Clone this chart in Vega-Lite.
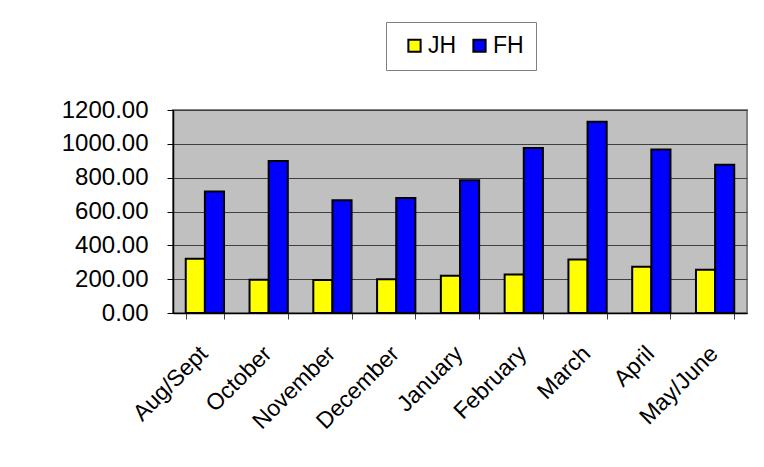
{
  "$schema": "https://vega.github.io/schema/vega-lite/v6.json",
  "autosize": "none",
  "width": 574,
  "height": 203,
  "padding": {"left": 173, "top": 110, "right": 17, "bottom": 154},
  "background": "white",
  "data": {
    "values": [
      {"month": "Aug/Sept", "series": "JH", "value": 320},
      {"month": "Aug/Sept", "series": "FH", "value": 718},
      {"month": "October", "series": "JH", "value": 196},
      {"month": "October", "series": "FH", "value": 898},
      {"month": "November", "series": "JH", "value": 195},
      {"month": "November", "series": "FH", "value": 667},
      {"month": "December", "series": "JH", "value": 200},
      {"month": "December", "series": "FH", "value": 680},
      {"month": "January", "series": "JH", "value": 220},
      {"month": "January", "series": "FH", "value": 785},
      {"month": "February", "series": "JH", "value": 228},
      {"month": "February", "series": "FH", "value": 975},
      {"month": "March", "series": "JH", "value": 316},
      {"month": "March", "series": "FH", "value": 1130},
      {"month": "April", "series": "JH", "value": 274},
      {"month": "April", "series": "FH", "value": 966},
      {"month": "May/June", "series": "JH", "value": 256},
      {"month": "May/June", "series": "FH", "value": 877}
    ]
  },
  "mark": {"type": "bar", "stroke": "black", "strokeWidth": 2},
  "encoding": {
    "x": {
      "field": "month",
      "type": "nominal",
      "sort": null,
      "title": null,
      "scale": {"paddingInner": 0.4, "paddingOuter": 0.2},
      "axis": {
        "labelAngle": -45,
        "labelAlign": "right",
        "labelBaseline": "top",
        "labelFont": "Liberation Sans",
        "labelFontSize": 23,
        "labelColor": "black",
        "labelPadding": 23,
        "labelOffset": -9,
        "tickBand": "extent",
        "tickSize": 6,
        "tickColor": "#404040",
        "domainColor": "black",
        "domainWidth": 1.5,
        "grid": false
      }
    },
    "xOffset": {"field": "series", "type": "nominal", "sort": ["JH", "FH"], "scale": {"paddingInner": 0}},
    "y": {
      "field": "value",
      "type": "quantitative",
      "title": null,
      "scale": {"domain": [0, 1200], "nice": false},
      "axis": {
        "values": [0, 200, 400, 600, 800, 1000, 1200],
        "format": ".2f",
        "labelFont": "Liberation Sans",
        "labelFontSize": 24,
        "labelColor": "black",
        "labelPadding": 19,
        "tickSize": 6,
        "tickColor": "black",
        "domainColor": "black",
        "domainWidth": 1.5,
        "grid": true,
        "gridColor": "#404040",
        "gridWidth": 1
      }
    },
    "fill": {
      "field": "series",
      "type": "nominal",
      "sort": ["JH", "FH"],
      "scale": {"domain": ["JH", "FH"], "range": ["#FFFF00", "#0000FF"]},
      "legend": {
        "title": null,
        "orient": "none",
        "direction": "horizontal",
        "legendX": 213,
        "legendY": -88,
        "symbolType": "square",
        "symbolSize": 150,
        "symbolStrokeColor": "black",
        "symbolStrokeWidth": 2,
        "symbolOffset": 5,
        "labelFont": "Liberation Sans",
        "labelFontSize": 23,
        "labelColor": "black",
        "labelOffset": 2,
        "columnPadding": 6,
        "padding": 12,
        "strokeColor": "#808080",
        "fillColor": "white"
      }
    }
  },
  "config": {
    "view": {"fill": "#C0C0C0", "stroke": "#808080", "strokeWidth": 2}
  }
}
